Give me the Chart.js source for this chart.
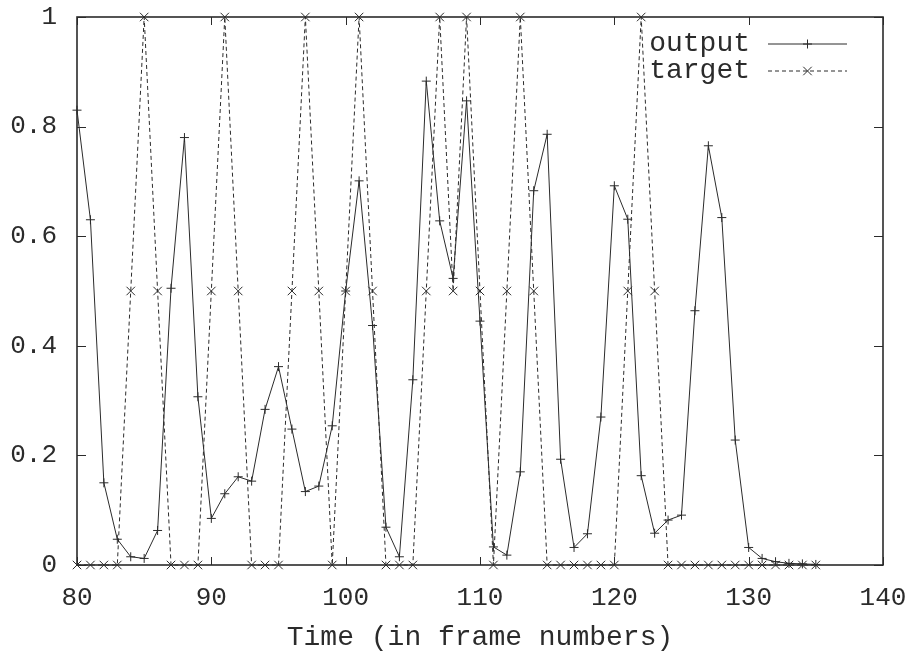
<!DOCTYPE html>
<html>
<head>
<meta charset="utf-8">
<script src="https://cdn.jsdelivr.net/npm/chart.js@4.4.1/dist/chart.umd.min.js"></script>
<style>
  html, body { margin: 0; padding: 0; background: #fff; }
  #wrap { width: 912px; height: 654px; }
</style>
</head>
<body>
<div id="wrap"><canvas id="chart"></canvas></div>
<script>
// data (frame number -> value)
const FRAMES = [
  80, 81, 82, 83, 84, 85, 86, 87, 88, 89,
  90, 91, 92, 93, 94, 95, 96, 97, 98, 99,
  100, 101, 102, 103, 104, 105, 106, 107, 108, 109,
  110, 111, 112, 113, 114, 115, 116, 117, 118, 119,
  120, 121, 122, 123, 124, 125, 126, 127, 128, 129,
  130, 131, 132, 133, 134, 135,
];
const OUTPUT = [
  0.83, 0.63, 0.15, 0.047, 0.015, 0.012, 0.063, 0.505, 0.78, 0.307,
  0.085, 0.13, 0.161, 0.153, 0.284, 0.362, 0.248, 0.134, 0.144, 0.254,
  0.50, 0.701, 0.437, 0.069, 0.015, 0.338, 0.883, 0.628, 0.523, 0.847,
  0.445, 0.033, 0.018, 0.17, 0.683, 0.786, 0.193, 0.032, 0.057, 0.27,
  0.692, 0.631, 0.163, 0.058, 0.082, 0.091, 0.464, 0.765, 0.634, 0.228,
  0.032, 0.012, 0.006, 0.003, 0.002, 0.001,
];
const TARGET = [
  0, 0, 0, 0, 0.5, 1, 0.5, 0, 0, 0,
  0.5, 1, 0.5, 0, 0, 0, 0.5, 1, 0.5, 0,
  0.5, 1, 0.5, 0, 0, 0, 0.5, 1, 0.5, 1,
  0.5, 0, 0.5, 1, 0.5, 0, 0, 0, 0, 0,
  0, 0.5, 1, 0.5, 0, 0, 0, 0, 0, 0,
  0, 0, 0, 0, 0, 0,
];
const SERIES_NAMES = ['output', 'target'];
const Y_TICK_LABELS = ['0', '0.2', '0.4', '0.6', '0.8', '1'];
const X_TITLE = 'Time (in frame numbers)';

const INK = '#2b2b2b';
const MONO = '"Liberation Mono", "DejaVu Sans Mono", monospace';

// gnuplot look: full border, inward mirrored ticks, key in the top right corner
const gnuplotFrame = {
  id: 'gnuplotFrame',
  afterDatasetsDraw(chart) {
    const { ctx, chartArea: a, scales } = chart;
    ctx.save();
    ctx.strokeStyle = INK;
    ctx.lineWidth = 1;
    ctx.beginPath();
    scales.x.ticks.forEach(t => {
      const px = Math.round(scales.x.getPixelForValue(t.value)) + 0.5;
      ctx.moveTo(px, a.bottom); ctx.lineTo(px, a.bottom - 8);
      ctx.moveTo(px, a.top); ctx.lineTo(px, a.top + 8);
    });
    scales.y.ticks.forEach(t => {
      const py = Math.round(scales.y.getPixelForValue(t.value)) + 0.5;
      ctx.moveTo(a.left, py); ctx.lineTo(a.left + 9, py);
      ctx.moveTo(a.right, py); ctx.lineTo(a.right - 9, py);
    });
    ctx.stroke();

    ctx.lineWidth = 1.6;
    ctx.strokeRect(a.left, a.top, a.right - a.left, a.bottom - a.top);

    // key
    ctx.font = '28px ' + MONO;
    ctx.textAlign = 'right';
    ctx.textBaseline = 'middle';
    chart.data.datasets.forEach((ds, i) => {
      const y = a.top + 27 + i * 27;
      const x0 = a.right - 115, x1 = a.right - 36;
      ctx.fillStyle = INK;
      ctx.fillText(ds.label, a.right - 133, y);
      ctx.lineWidth = 1;
      ctx.setLineDash(ds.borderDash || []);
      ctx.beginPath();
      ctx.moveTo(x0, y); ctx.lineTo(x1, y);
      ctx.stroke();
      ctx.setLineDash([]);
      Chart.helpers.drawPoint(ctx, { pointStyle: ds.pointStyle, radius: ds.pointRadius, borderWidth: 1, rotation: 0 }, (x0 + x1) / 2, y);
    });
    ctx.restore();
  },
};

const ctx = document.getElementById('chart').getContext('2d');
new Chart(ctx, {
  type: 'line',
  data: {
    datasets: [
      {
        label: SERIES_NAMES[0],
        data: FRAMES.map((f, i) => ({ x: f, y: OUTPUT[i] })),
        borderColor: INK,
        borderWidth: 1,
        pointStyle: 'cross',
        pointRadius: 4.5,
        pointBorderColor: INK,
        pointBorderWidth: 1,
        tension: 0,
        clip: false,
      },
      {
        label: SERIES_NAMES[1],
        data: FRAMES.map((f, i) => ({ x: f, y: TARGET[i] })),
        borderColor: INK,
        borderWidth: 1,
        borderDash: [4, 3],
        pointStyle: 'crossRot',
        pointRadius: 6,
        pointBorderColor: INK,
        pointBorderWidth: 1,
        tension: 0,
        clip: false,
      },
    ],
  },
  options: {
    responsive: true,
    maintainAspectRatio: false,
    animation: false,
    layout: { padding: { top: 17, right: 29, left: 0, bottom: 0 } },
    plugins: {
      legend: { display: false },
      tooltip: { enabled: false },
    },
    scales: {
      x: {
        type: 'linear',
        min: 80,
        max: 140,
        // fixed box so the plot area lands where the original has it
        afterFit: s => { s.height = 89; s.paddingLeft = 0; s.paddingRight = 0; },
        grid: { display: false, drawTicks: false },
        border: { display: false },
        ticks: {
          stepSize: 10,
          autoSkip: false,
          maxRotation: 0,
          padding: 18,
          color: INK,
          font: { family: MONO, size: 26 },
        },
        title: {
          display: true,
          text: X_TITLE,
          color: INK,
          font: { family: MONO, size: 28 },
          padding: { top: 0, bottom: 0 },
        },
      },
      y: {
        min: 0,
        max: 1,
        afterFit: s => { s.width = 77; s.paddingTop = 0; s.paddingBottom = 0; },
        grid: { display: false, drawTicks: false },
        border: { display: false },
        ticks: {
          stepSize: 0.2,
          padding: 20,
          color: INK,
          font: { family: MONO, size: 26 },
          callback: v => Y_TICK_LABELS[Math.round(v / 0.2)],
        },
      },
    },
  },
  plugins: [gnuplotFrame],
});
</script>
</body>
</html>
